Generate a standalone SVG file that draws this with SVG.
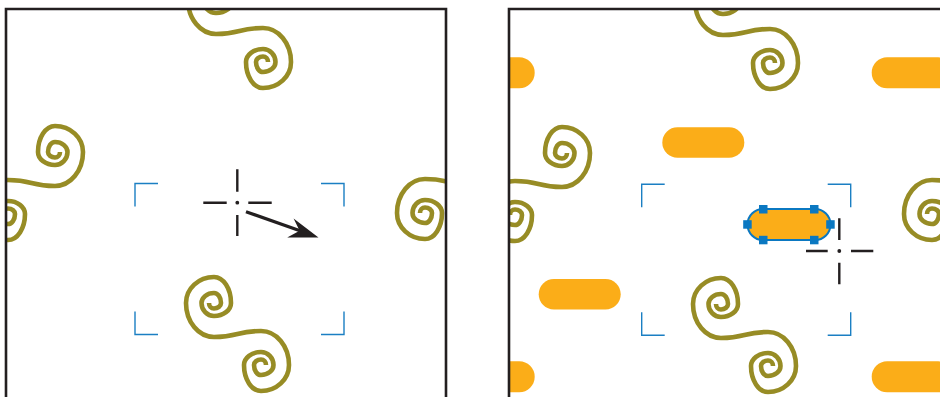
<svg xmlns="http://www.w3.org/2000/svg" width="940" height="397" viewBox="0 0 940 397">
<style>
.sp{fill:none;stroke:#978c25;stroke-width:4.6}
.frame{fill:none;stroke:#231f20;stroke-width:2.6}
.mark{fill:none;stroke:#1b7fc3;stroke-width:1.4}
.cross{stroke:#231f20;stroke-width:2.4;fill:none}
.dot{fill:#231f20}
.pill{fill:#fbad18}
.handle{fill:#0b78c1}
</style>
<defs>
  <!-- one coil: starts at its outer top point, winds inward clockwise -->
  <path id="coil" class="sp" d="M0,-34 A28,34 0 0 1 28,0 A28,26 0 0 1 0,26 A17,26 0 0 1 -17,0 A17,13 0 0 1 0,-13 A12.5,13 0 0 1 12.5,0 A12.5,10 0 0 1 0,10 A7,10 0 0 1 -7,0 A7,5.5 0 0 1 0,-5.5 A5,5.5 0 0 1 5,0"/>
  <!-- double scroll: lower coil at origin, upper coil rotated half a turn -->
  <g id="scroll">
    <use href="#coil"/>
    <use href="#coil" transform="translate(-47,-62) rotate(180)"/>
    <path class="sp" d="M-47,-28 C-22,-28 -25,-34 0,-34"/>
  </g>
  <g id="tile">
    <use href="#scroll" transform="translate(263,62)"/>
    <use href="#scroll" transform="translate(261,365)"/>
    <use href="#scroll" transform="translate(8,214) scale(-1,1)"/>
    <use href="#scroll" transform="translate(425,213) scale(-1,1)"/>
  </g>
  <clipPath id="clipL"><rect x="6" y="9" width="440" height="400"/></clipPath>
  <clipPath id="clipR"><rect x="509" y="9" width="440" height="400"/></clipPath>
  <path id="corners" class="mark" d="M0,23 V0 H23 M186,0 H209 V23 M0,128 V151 H23 M186,151 H209 V128"/>
</defs>

<!-- left panel -->
<g id="panel-left">
  <g clip-path="url(#clipL)">
    <use href="#tile"/>
  </g>
  <use id="marks-left" href="#corners" transform="translate(135,183.5)"/>
  <g id="cursor-left">
    <path class="cross" d="M237.3,169.3 V191.7 M237.3,215 V236 M203.3,202.7 H226.7 M248.3,202.7 H271.7"/>
    <circle class="dot" cx="237.3" cy="202.7" r="1.9"/>
  </g>
  <g id="arrow">
    <line x1="246" y1="211.7" x2="300" y2="230.8" stroke="#231f20" stroke-width="3.2"/>
    <polygon points="318.5,237.5 293.6,218.4 299.6,230.8 287.2,237.4" fill="#231f20"/>
  </g>
  <path class="frame" d="M6,400 V9 H446 V400"/>
</g>

<!-- right panel -->
<g id="panel-right">
  <g clip-path="url(#clipR)">
    <use href="#tile" transform="translate(507,1)"/>
    <g id="pills">
      <rect class="pill" x="452.7" y="57.3" width="82" height="31" rx="15.5"/>
      <rect class="pill" x="871.7" y="57.3" width="82" height="31" rx="15.5"/>
      <rect class="pill" x="662.3" y="127.3" width="82" height="30.5" rx="15.25"/>
      <rect class="pill" x="538.7" y="279" width="82" height="30.5" rx="15.25"/>
      <rect class="pill" x="452.7" y="361.3" width="82" height="31" rx="15.5"/>
      <rect class="pill" x="871.7" y="361.3" width="82" height="31" rx="15.5"/>
    </g>
  </g>
  <use id="marks-right" href="#corners" transform="translate(641.7,184.3)"/>
  <g id="selected-pill">
    <rect class="pill" x="747.5" y="209" width="83" height="31" rx="15.5" stroke="#0b78c1" stroke-width="2"/>
    <rect class="handle" x="759" y="205" width="8.5" height="8.5"/>
    <rect class="handle" x="810" y="205" width="8.5" height="8.5"/>
    <rect class="handle" x="759" y="235.8" width="8.5" height="8.5"/>
    <rect class="handle" x="810" y="235.8" width="8.5" height="8.5"/>
    <rect class="handle" x="743.2" y="220.2" width="8.5" height="8.5"/>
    <rect class="handle" x="826.2" y="220.2" width="8.5" height="8.5"/>
  </g>
  <g id="cursor-right">
    <path class="cross" d="M839.3,218.3 V240 M839.3,262.7 V284.3 M806,251 H827.7 M851,251 H873.3"/>
    <circle class="dot" cx="839.3" cy="251" r="1.9"/>
  </g>
  <path class="frame" d="M509,400 V9 H945"/>
</g>
</svg>
